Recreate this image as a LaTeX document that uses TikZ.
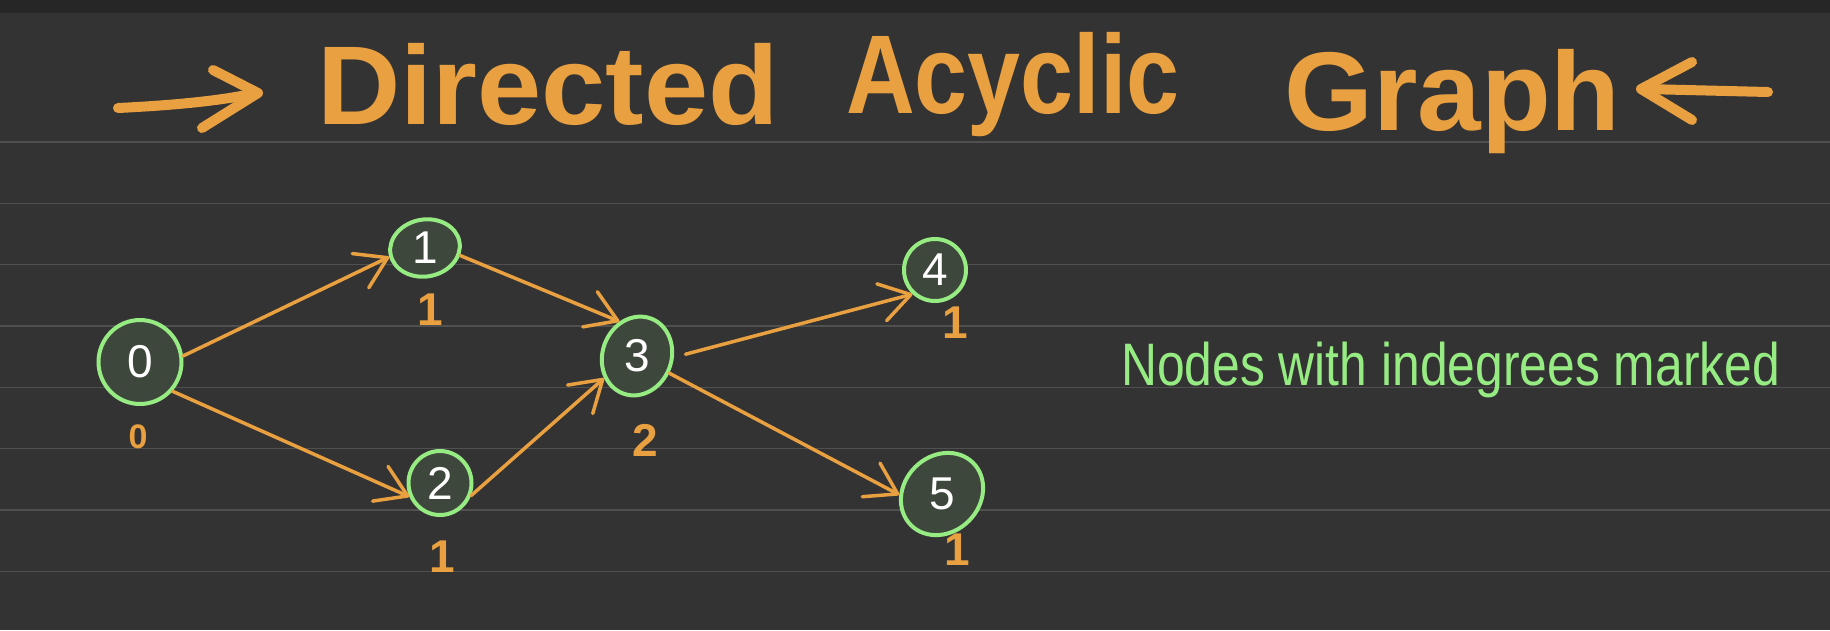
\documentclass[tikz,border=0pt]{standalone}
\usepackage{fontspec}
\setmainfont{Liberation Sans}
\usetikzlibrary{arrows.meta,shapes.geometric}
\definecolor{bgc}{HTML}{333333}
\definecolor{topc}{HTML}{262626}
\definecolor{rulec}{HTML}{505050}
\definecolor{orng}{HTML}{E9A040}
\definecolor{grn}{HTML}{96EB82}
\definecolor{nfill}{HTML}{3E473C}
\begin{document}
\begin{tikzpicture}[x=1pt,y=-1pt,
  vnode/.style={ellipse,draw=grn,line width=4pt,fill=nfill,inner sep=0pt,text=white,font=\fontsize{46}{46}\selectfont},
  deg/.style={text=orng,inner sep=0pt,font=\fontsize{46}{46}\selectfont\bfseries},
  edge/.style={draw=orng,line width=3.5pt,line cap=round,-{Straight Barb[length=30pt,width=38pt,round]}},
  titletext/.style={text=orng,inner sep=0pt,anchor=base west,font=\fontsize{112}{112}\selectfont\bfseries},
  titlearrow/.style={draw=orng,line width=10pt,line cap=round,line join=round},
  rule/.style={draw=rulec,line width=1.5pt},
  note/.style={text=grn,inner sep=0pt,anchor=base west,font=\fontsize{60}{60}\selectfont}]
\useasboundingbox (0,0) rectangle (1830,630);
\fill[bgc] (0,0) rectangle (1830,630);
\fill[topc] (0,0) rectangle (1830,13);
\foreach \yy in {142,203.3,264.7,326,387.3,448.7,510,571.3}
  \draw[rule] (0,\yy) -- (1830,\yy);

% title
\node[titletext] (tD) at (317,124) {\scalebox{1.03}[1]{Directed}};
\node[titletext] (tA) at (846,113) {\scalebox{0.85}[1]{Acyclic}};
\node[titletext] (tG) at (1284,130) {\scalebox{1.02}[1]{Graph}};
\draw[titlearrow] (118,108) .. controls (180,105) and (225,100) .. (256,93);
\draw[titlearrow] (213,70) -- (258,93) -- (202,128);
\draw[titlearrow] (1692,62) -- (1641,89) -- (1692,120);
\draw[titlearrow] (1645,89) -- (1768,92);

% nodes
\node[vnode,minimum width=83pt,minimum height=84pt] (n0) at (140,362) {0};
\node[vnode,minimum width=70pt,minimum height=57pt,rotate=10] (n1) at (425,248) {\rotatebox{-10}{1}};
\node[vnode,minimum width=63pt,minimum height=64pt] (n2) at (440,483) {2};
\node[vnode,minimum width=69pt,minimum height=80pt,rotate=-20] (n3) at (637,356) {\rotatebox{20}{3}};
\node[vnode,minimum width=62pt,minimum height=62pt] (n4) at (935,270) {4};
\node[vnode,minimum width=88pt,minimum height=76pt,rotate=45] (n5) at (942,494) {\rotatebox{-45}{5}};

% indegrees
\node[deg,font=\fontsize{34}{34}\selectfont\bfseries] (d0) at (138,437) {0};
\node[deg] (d1) at (430,310) {1};
\node[deg] (d2) at (442,557) {1};
\node[deg] (d3) at (645,440) {2};
\node[deg] (d4) at (955,323) {1};
\node[deg] (d5) at (957,550) {1};

% edges
\draw[edge] (n0.8) -- (n1.184);
\draw[edge] (n1.-22) -- (n3.137);
\draw[edge] (n0.-42) -- (n2.204);
\draw[edge] (n2.-22) -- (n3.234);
\draw[edge,shorten <=12pt] (n3.18) -- (n4.227);
\draw[edge] (n3.-8) -- (n5.136);

% note
\node[note] (nt) at (1121,385) {\scalebox{0.83}[1]{Nodes with indegrees marked}};
\end{tikzpicture}
\end{document}
